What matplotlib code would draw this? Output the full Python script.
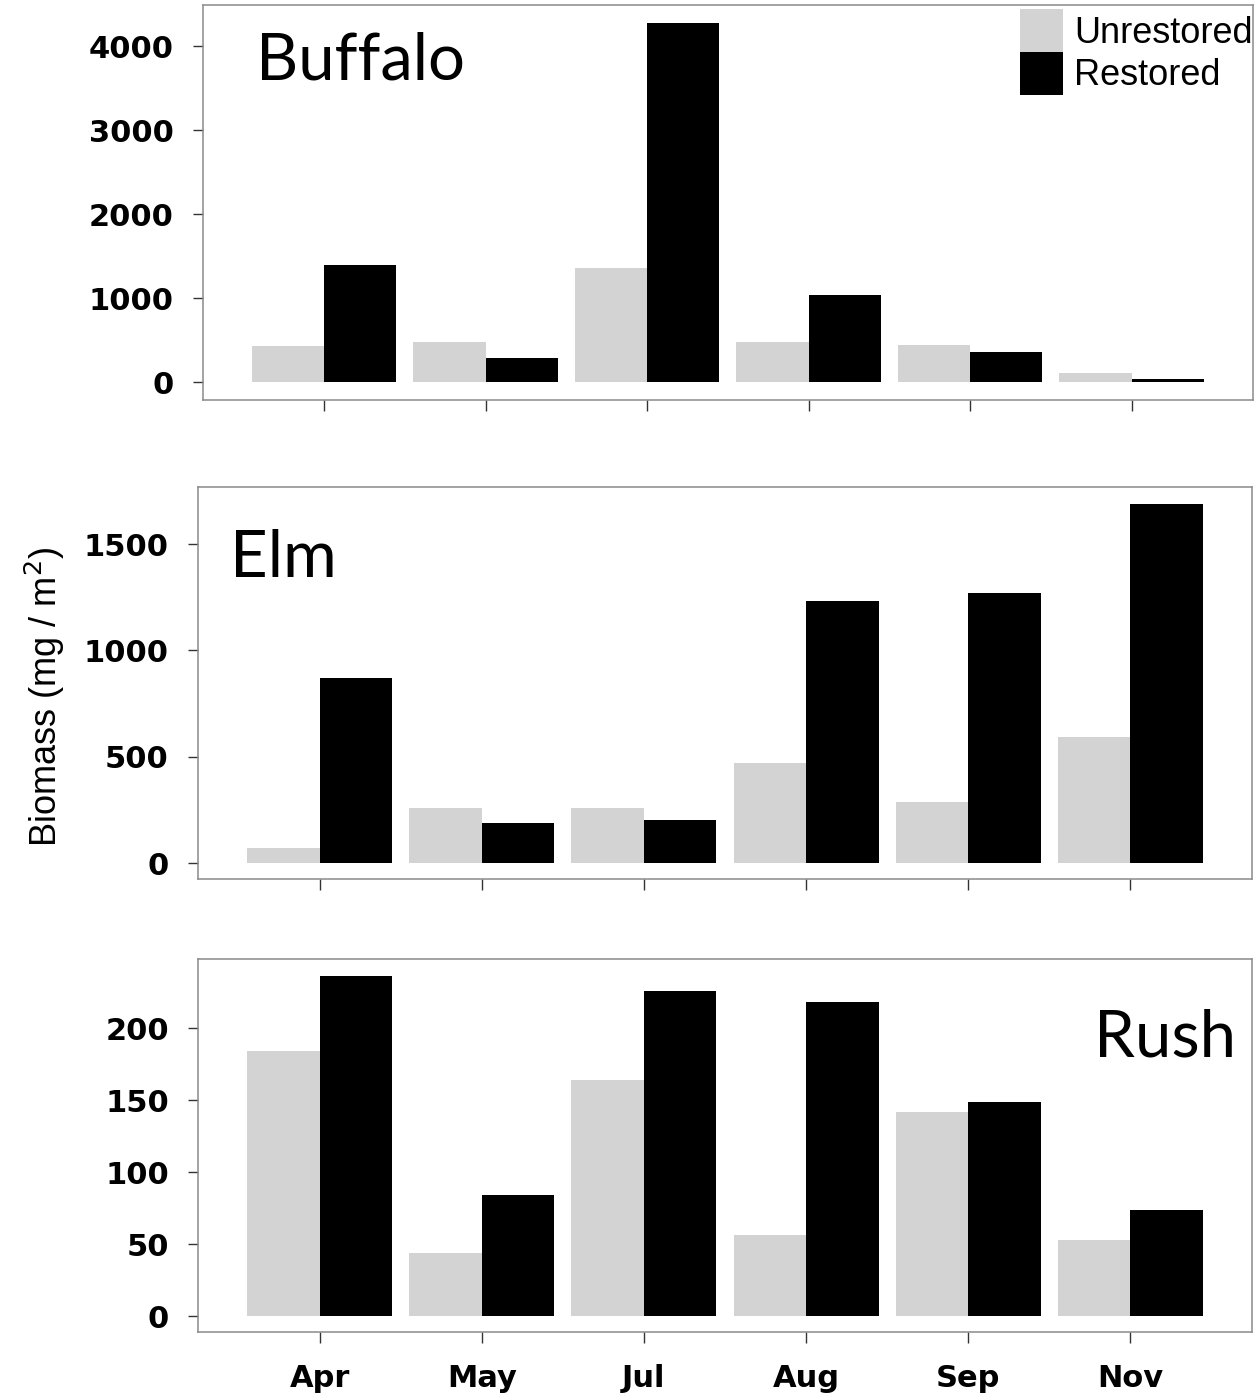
import matplotlib.pyplot as plt
import numpy as np

meses = ["Apr", "May", "Jul", "Aug", "Sep", "Nov"]

buffalo_nao = [430, 476, 1357, 476, 440, 107]
buffalo_rest = [1393, 286, 4274, 1036, 357, 36]

elm_nao = [70, 259, 259, 470, 287, 592]
elm_rest = [870, 188, 202, 1232, 1269, 1688]

rush_nao = [184, 44, 164, 56, 142, 53]
rush_rest = [236, 84, 226, 218, 149, 74]

fonte_eixo = "DejaVu Sans"
fonte_texto = "Liberation Sans"
fonte_titulo = "Lato"

fig = plt.figure(figsize=(12.54, 14.0), dpi=100)

paineis = [
    ("Buffalo", buffalo_nao, buffalo_rest, [0.1619, 0.7143, 0.837, 0.282],
     (-214, 4488), [0, 1000, 2000, 3000, 4000], (0.05, 0.858, "left")),
    ("Elm", elm_nao, elm_rest, [0.1579, 0.3721, 0.8405, 0.280],
     (-75, 1768), [0, 500, 1000, 1500], (0.03, 0.817, "left")),
    ("Rush", rush_nao, rush_rest, [0.1579, 0.0486, 0.8405, 0.2664],
     (-11, 248), [0, 50, 100, 150, 200], (0.985, 0.787, "right")),
]

x = np.arange(len(meses))
w = 0.447
eixos = []
for nome, nao, rest, pos, ylim, yt, (tx, ty, ha) in paineis:
    ax = fig.add_axes(pos)
    ax.bar(x - w / 2, nao, width=w, color="#D3D3D3", linewidth=0)
    ax.bar(x + w / 2, rest, width=w, color="black", linewidth=0)
    ax.set_xlim(-0.75, 5.75)
    ax.set_ylim(*ylim)
    ax.set_yticks(yt)
    ax.set_xticks(x)
    for s in ax.spines.values():
        s.set_color("#8a8a8a")
        s.set_linewidth(1.1)
    ax.tick_params(axis="y", length=7, width=1, color="#333333", pad=14,
                   labelsize=22)
    ax.tick_params(axis="x", length=8, width=1, color="#333333", pad=15,
                   labelsize=22)
    for lab in ax.get_yticklabels():
        lab.set_fontfamily(fonte_eixo)
        lab.set_fontweight("bold")
    ax.text(tx, ty, nome, transform=ax.transAxes, ha=ha, va="center",
            fontsize=47, fontfamily=fonte_titulo)
    eixos.append(ax)

eixos[0].set_xticklabels([])
eixos[1].set_xticklabels([])
eixos[2].set_xticklabels(meses, fontfamily=fonte_eixo, fontweight="bold")

leg = eixos[0].legend(["Unrestored", "Restored"], loc="upper right",
                      bbox_to_anchor=(1.0, 0.99), frameon=False,
                      prop={"family": fonte_texto, "size": 26},
                      handlelength=1.17, handleheight=1.45, labelspacing=0,
                      handletextpad=0.32, borderpad=0.0, borderaxespad=0)

fig.text(0.036, 0.502, r"Biomass (mg / m$^2$)", rotation=90, ha="center",
         va="center", fontsize=26, fontfamily=fonte_texto)

plt.savefig("out.png", dpi=100)
